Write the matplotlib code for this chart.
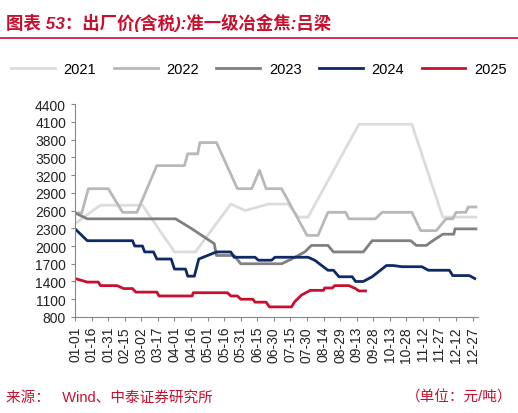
import matplotlib.pyplot as plt
from matplotlib.lines import Line2D

plt.rcParams['font.family'] = ['Liberation Sans', 'Noto Sans CJK SC', 'DejaVu Sans']

# breakpoints: day of year, price (元/吨)
days_2021 = [0, 8, 23, 61, 90, 109, 141, 154, 175, 193, 202, 211, 257, 305, 333, 363]
vals_2021 = [2375, 2490, 2690, 2690, 1900, 1900, 2710, 2600, 2710, 2710, 2490, 2490, 4060, 4060, 2490, 2490]

days_2022 = [0, 6, 12, 30, 43, 56, 74, 99, 102, 111, 113, 128, 147, 160, 167, 173, 187, 210, 220,
             229, 245, 248, 272, 278, 305, 313, 327, 336, 342, 345, 354, 356, 363]
vals_2022 = [2560, 2560, 2970, 2970, 2570, 2570, 3360, 3360, 3560, 3560, 3750, 3750, 2970, 2970, 3280,
             2970, 2970, 2180, 2180, 2570, 2570, 2460, 2460, 2570, 2570, 2260, 2260, 2460, 2460, 2570,
             2570, 2660, 2660]

days_2023 = [0, 11, 91, 105, 126, 128, 144, 150, 187, 196, 208, 214, 229, 234, 261, 269, 304, 309,
             318, 324, 333, 343, 344, 363]
vals_2023 = [2560, 2460, 2460, 2300, 2040, 1840, 1840, 1700, 1700, 1780, 1900, 2010, 2010, 1900, 1900,
             2090, 2090, 2010, 2010, 2090, 2200, 2200, 2290, 2290]

days_2024 = [0, 11, 52, 54, 61, 63, 71, 74, 87, 90, 100, 102, 108, 112, 128, 141, 144, 163, 166, 178,
             181, 211, 217, 229, 234, 239, 251, 254, 261, 269, 282, 288, 296, 314, 320, 339, 342, 357, 362]
vals_2024 = [2290, 2090, 2090, 2000, 2000, 1900, 1900, 1780, 1780, 1610, 1610, 1490, 1490, 1780, 1900,
             1900, 1810, 1810, 1760, 1760, 1810, 1810, 1760, 1590, 1590, 1480, 1480, 1400, 1400, 1480,
             1670, 1670, 1650, 1650, 1590, 1590, 1500, 1500, 1450]

days_2025 = [0, 11, 21, 23, 38, 44, 52, 55, 74, 76, 106, 107, 138, 141, 147, 150, 161, 163, 173, 176,
             196, 199, 205, 213, 225, 226, 233, 235, 248, 254, 257, 263]
vals_2025 = [1450, 1390, 1390, 1330, 1330, 1280, 1280, 1220, 1220, 1155, 1155, 1210, 1210, 1155, 1155,
             1100, 1100, 1050, 1050, 970, 970, 1060, 1170, 1250, 1250, 1290, 1290, 1330, 1330, 1280,
             1240, 1240]

tick_labels = ['01-01', '01-16', '01-31', '02-15', '03-02', '03-17', '04-01', '04-16', '05-01',
               '05-16', '05-31', '06-15', '06-30', '07-15', '07-30', '08-14', '08-29', '09-13',
               '09-28', '10-13', '10-28', '11-12', '11-27', '12-12', '12-27']

series = [
    ('2021', days_2021, vals_2021, '#dcdcdc'),
    ('2022', days_2022, vals_2022, '#b8b8b8'),
    ('2023', days_2023, vals_2023, '#808080'),
    ('2024', days_2024, vals_2024, '#0d2a66'),
    ('2025', days_2025, vals_2025, '#c8102e'),
]

fig = plt.figure(figsize=(5.18, 4.14), dpi=100)
ax = fig.add_axes([0.145, 0.232, 0.778, 0.514])

for name, d, v, c in series:
    ax.plot(d, v, color=c, lw=2, label=name)

ax.set_ylim(800, 4400)
ax.set_yticks(range(800, 4401, 300))
ax.set_xlim(0, 365)
ax.set_xticks(range(0, 361, 15))
ax.set_xticklabels(tick_labels, rotation=90)
ax.tick_params(labelsize=10, colors='#222222', length=3, color='#888888')
for s in ['top', 'right']:
    ax.spines[s].set_visible(False)
for s in ['left', 'bottom']:
    ax.spines[s].set_color('#888888')

handles = [Line2D([], [], color=c, lw=2) for _, _, _, c in series]
fig.legend(handles, [s[0] for s in series], loc='center', bbox_to_anchor=(0.5, 0.83),
           ncol=5, frameon=False, fontsize=10.5, handlelength=3.0, columnspacing=1.2,
           handletextpad=0.6)

fig.text(0.012, 0.945, '图表 53：出厂价(含税):准一级冶金焦:吕梁', color='#c8102e',
         fontsize=12.5, fontweight='bold', fontstyle='italic', va='center')
fig.add_artist(Line2D([0.0, 1.0], [0.905, 0.905], color='#c8102e', lw=1.2))

fig.text(0.012, 0.04, '来源：   Wind、中泰证券研究所', color='#c8102e', fontsize=10.5, va='center')
fig.text(0.99, 0.04, '（单位：元/吨）', color='#c8102e', fontsize=10.5, va='center', ha='right')

fig.savefig('out.png', dpi=100, facecolor='white')
